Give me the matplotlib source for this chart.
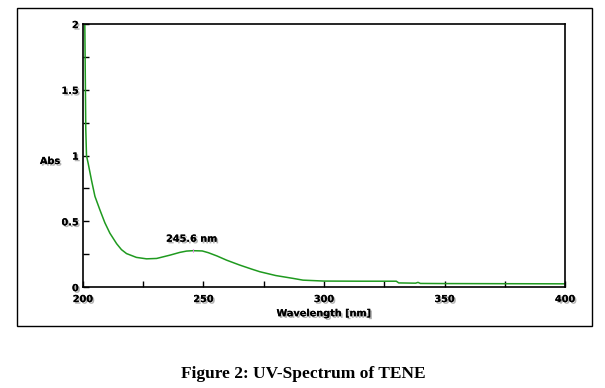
import matplotlib
matplotlib.use("Agg")
import matplotlib.pyplot as plt
import matplotlib.patheffects as pe
from matplotlib.patches import Rectangle
from matplotlib.ticker import MultipleLocator

# --- DATA ---
wavelength = [200.8, 201.0, 201.2, 201.5, 202.2, 203.6, 205.0, 207.1, 209.1, 211.2,
              214.0, 216.0, 218.1, 222.2, 226.4, 230.6, 236.1, 240.2, 243.0, 245.6,
              249.5, 252.0, 255.6, 259.6, 265.0, 270.0, 273.4, 280.0, 287.3, 291.3,
              300.0, 315.0, 330.0, 331.0, 338.0, 339.0, 340.0, 350.0, 375.0, 400.0]
absorbance = [2.00, 1.60, 1.20, 1.00, 0.94, 0.81, 0.69, 0.585, 0.49, 0.41,
              0.33, 0.285, 0.255, 0.226, 0.215, 0.218, 0.243, 0.264, 0.274, 0.277,
              0.275, 0.262, 0.237, 0.205, 0.168, 0.137, 0.117, 0.088, 0.066, 0.053,
              0.046, 0.045, 0.045, 0.032, 0.03, 0.036, 0.028, 0.027, 0.026, 0.025]
peak_label = "245.6 nm"
peak_x = 245.6
x_ticks = [200, 250, 300, 350, 400]
y_ticks = [0, 0.5, 1, 1.5, 2]
y_tick_labels = ["0", "0.5", "1", "1.5", "2"]

shadow = [pe.withSimplePatchShadow(offset=(1.2, -1.2), shadow_rgbFace='#555555', alpha=0.45), pe.Normal()]

fig = plt.figure(figsize=(6.05, 3.88), dpi=100)
fig.patch.set_facecolor('white')

# outer frame round the plot
frame = Rectangle((0.028, 0.160), 0.950, 0.819, transform=fig.transFigure,
                  facecolor='none', edgecolor='black', linewidth=1.0, zorder=0)
fig.patches.append(frame)

ax = fig.add_axes([0.137, 0.260, 0.797, 0.678])
ax.plot(wavelength, absorbance, color='#1f9a1f', lw=1.1)
ax.set_xlim(200, 400)
ax.set_ylim(0, 2)

ax.set_xticks(x_ticks)
ax.set_yticks(y_ticks)
ax.set_yticklabels(y_tick_labels)
ax.xaxis.set_minor_locator(MultipleLocator(25))
ax.yaxis.set_minor_locator(MultipleLocator(0.25))
ax.tick_params(which='both', direction='in', length=4, width=1, top=False, right=False)
ax.tick_params(axis='x', which='major', pad=5)
ax.tick_params(axis='y', which='major', pad=3)
for lab in ax.get_xticklabels() + ax.get_yticklabels():
    lab.set_fontsize(7)
    lab.set_fontweight('bold')
    lab.set_path_effects(shadow)
for s in ax.spines.values():
    s.set_linewidth(1.2)

ax.set_xlabel("Wavelength [nm]", fontsize=7, fontweight='bold', labelpad=3,
              path_effects=shadow)
fig.text(0.066, 0.585, "Abs", fontsize=7, fontweight='bold', ha='left', va='center',
         path_effects=shadow)

# peak annotation
ax.plot([peak_x, peak_x], [0.265, 0.29], color='#f080f0', lw=0.6)
ax.text(peak_x - 0.5, 0.33, peak_label, fontsize=7, fontweight='bold', ha='center',
        va='bottom', path_effects=shadow)

fig.text(0.501, 0.036, "Figure 2: UV-Spectrum of TENE", fontsize=12.5, fontweight='bold',
         family='Liberation Serif', ha='center', va='center')

fig.savefig("out.png", dpi=100)
